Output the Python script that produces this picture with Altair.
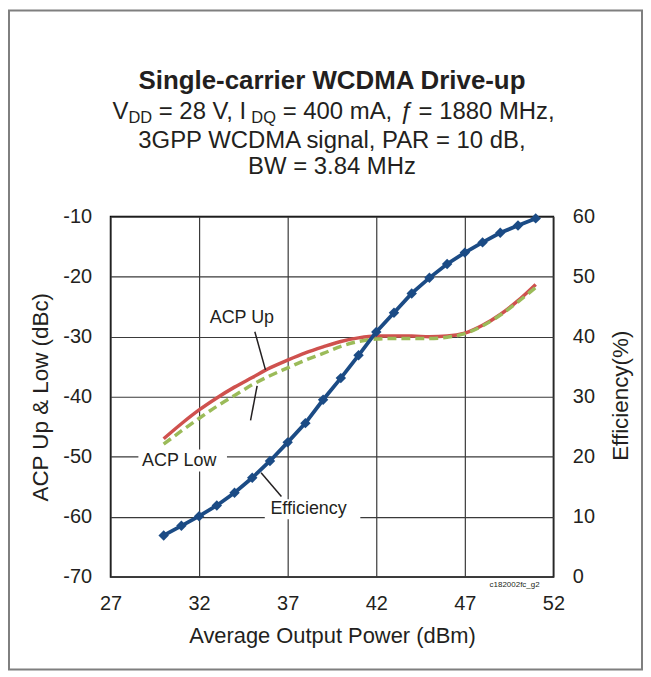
import altair as alt
import pandas as pd

# ---- data ----
power = [30, 31, 32, 33, 34, 35, 36, 37, 38, 39, 40, 41, 42, 43, 44, 45, 46, 47, 48, 49, 50, 51]
acp_up = [-47.0, -44.5, -42.2, -40.2, -38.4, -36.8, -35.2, -33.9, -32.7, -31.7, -30.8,
          -30.2, -29.9, -29.9, -29.9, -30.0, -29.9, -29.4, -28.1, -26.3, -24.0, -21.3]
acp_low = [-47.9, -45.7, -43.6, -41.6, -39.8, -38.0, -36.5, -35.2, -33.9, -32.8, -31.6,
           -30.8, -30.4, -30.3, -30.3, -30.3, -30.1, -29.5, -28.2, -26.4, -24.2, -21.8]
efficiency = [6.9, 8.5, 10.1, 11.9, 14.0, 16.5, 19.3, 22.4, 25.6, 29.5, 33.1,
              36.9, 40.8, 44.0, 47.2, 49.8, 52.1, 54.0, 55.7, 57.3, 58.5, 59.7]

x_ticks = [27, 32, 37, 42, 47, 52]
acp_ticks = [-70, -60, -50, -40, -30, -20, -10]
eff_ticks = [0, 10, 20, 30, 40, 50, 60]

title_text = "Single-carrier WCDMA Drive-up"
subtitle_line3 = "3GPP WCDMA signal, PAR = 10 dB,"
subtitle_line4 = "BW = 3.84 MHz"
eff_title = "Efficiency(%)"

df = pd.DataFrame({"power": power, "acp_up": acp_up, "acp_low": acp_low, "eff": efficiency})

W, H = 445, 362
PAD = {"left": 103, "top": 208, "right": 90, "bottom": 94}
FONT = "Liberation Sans"
TXT = "#231F20"
RED = "#CF514E"
GREEN = "#9BBB59"
BLUE = "#1B4B85"

x_enc = alt.X(
    "power:Q",
    scale=alt.Scale(domain=[27, 52], nice=False, zero=False),
    axis=alt.Axis(values=x_ticks, title="Average Output Power (dBm)", grid=True,
                  labelFlush=False, labelPadding=17, titlePadding=12,
                  labelFontSize=20, titleFontSize=22),
)
acp_scale = alt.Scale(domain=[-70, -10], nice=False, zero=False)
acp_axis = alt.Axis(values=acp_ticks, title="ACP Up & Low (dBc)", grid=True, orient="left",
                    labelPadding=19, titlePadding=10, labelFontSize=20, titleFontSize=22.5,
                    labelExpr="'' + datum.value")

up = alt.Chart(df).mark_line(color=RED, strokeWidth=3.5, interpolate="monotone").encode(
    x=x_enc, y=alt.Y("acp_up:Q", scale=acp_scale, axis=acp_axis)
)
low = alt.Chart(df).mark_line(color=GREEN, strokeWidth=3.5, strokeDash=[9, 5],
                              interpolate="monotone").encode(
    x=x_enc, y=alt.Y("acp_low:Q", scale=acp_scale, axis=acp_axis)
)
acp = alt.layer(up, low)

eff = alt.Chart(df).mark_line(
    color=BLUE, strokeWidth=3.8,
    point=alt.OverlayMarkDef(shape="diamond", size=110, filled=True, color=BLUE),
).encode(
    x=x_enc,
    y=alt.Y("eff:Q", scale=alt.Scale(domain=[0, 60], nice=False, zero=False),
            axis=alt.Axis(values=eff_ticks, title=None, orient="right", grid=False,
                          labelPadding=19, labelFontSize=20)),
)


def one():
    return pd.DataFrame({"k": [0]})


def text(s, x, y, size=18, weight="normal", style="normal", align="center",
         baseline="alphabetic", angle=0):
    return alt.Chart(one()).mark_text(
        font=FONT, fontSize=size, fontWeight=weight, fontStyle=style, align=align,
        baseline=baseline, color=TXT, angle=angle,
    ).encode(x=alt.value(x), y=alt.value(y), text=alt.value(s))


def rule(x1, y1, x2, y2):
    return alt.Chart(one()).mark_rule(color="#231F20", strokeWidth=1.5).encode(
        x=alt.value(x1), y=alt.value(y1), x2=alt.value(x2), y2=alt.value(y2))


def white_box(x1, y1, x2, y2):
    return alt.Chart(one()).mark_rect(color="white").encode(
        x=alt.value(x1), y=alt.value(y1), x2=alt.value(x2), y2=alt.value(y2))


border = alt.Chart(one()).mark_rect(fillOpacity=0, stroke="#7F7F7F", strokeWidth=2).encode(
    x=alt.value(-PAD["left"] + 1), y=alt.value(-PAD["top"] + 1),
    x2=alt.value(W + PAD["right"] - 1), y2=alt.value(H + PAD["bottom"] - 1))

annotations = [
    white_box(28, 234, 117, 256),
    white_box(155, 284, 251, 304),
    text("ACP Up", 132, 107),
    rule(145, 115.7, 155.7, 154),
    text("ACP Low", 69, 251),
    rule(140.7, 204.7, 147.3, 170),
    text("Efficiency", 199, 299),
    rule(171.7, 281.3, 151.3, 257.3),
    text("c182002fc_g2", 406, 372, size=8),
    text(eff_title, 513, 180, size=22.5, baseline="middle", angle=270),
    # titles
    text(title_text, W / 2, -128, size=26, weight="bold"),
    text("V", 2.0, -98, size=24, align="left"),
    text("DD", 18.0, -94, size=16.5, align="left"),
    text("= 28 V, I", 48.5, -98, size=24, align="left"),
    text("DQ", 141.5, -94, size=16.5, align="left"),
    text("= 400 mA,", 173.0, -98, size=24, align="left"),
    text("ƒ", 290.0, -98, size=24, style="italic", align="left"),
    text("= 1880 MHz,", 309.5, -98, size=24, align="left"),
    text(subtitle_line3, W / 2, -69, size=24),
    text(subtitle_line4, W / 2, -43, size=24),
]

chart = alt.layer(acp, eff, *annotations, border).resolve_scale(y="independent").properties(
    width=W, height=H,
    autosize=alt.AutoSizeParams(type="none"),
    padding=PAD,
).configure_view(
    stroke="#000000", strokeWidth=1.5
).configure_axis(
    labelFont=FONT, titleFont=FONT, labelColor=TXT, titleColor=TXT,
    titleFontWeight="normal", gridColor="#3A3A3A", gridWidth=1.2, gridOpacity=1,
    domain=False, ticks=False, tickSize=0,
)

chart.save("out.html", embed_options={"renderer": "svg", "actions": False})
